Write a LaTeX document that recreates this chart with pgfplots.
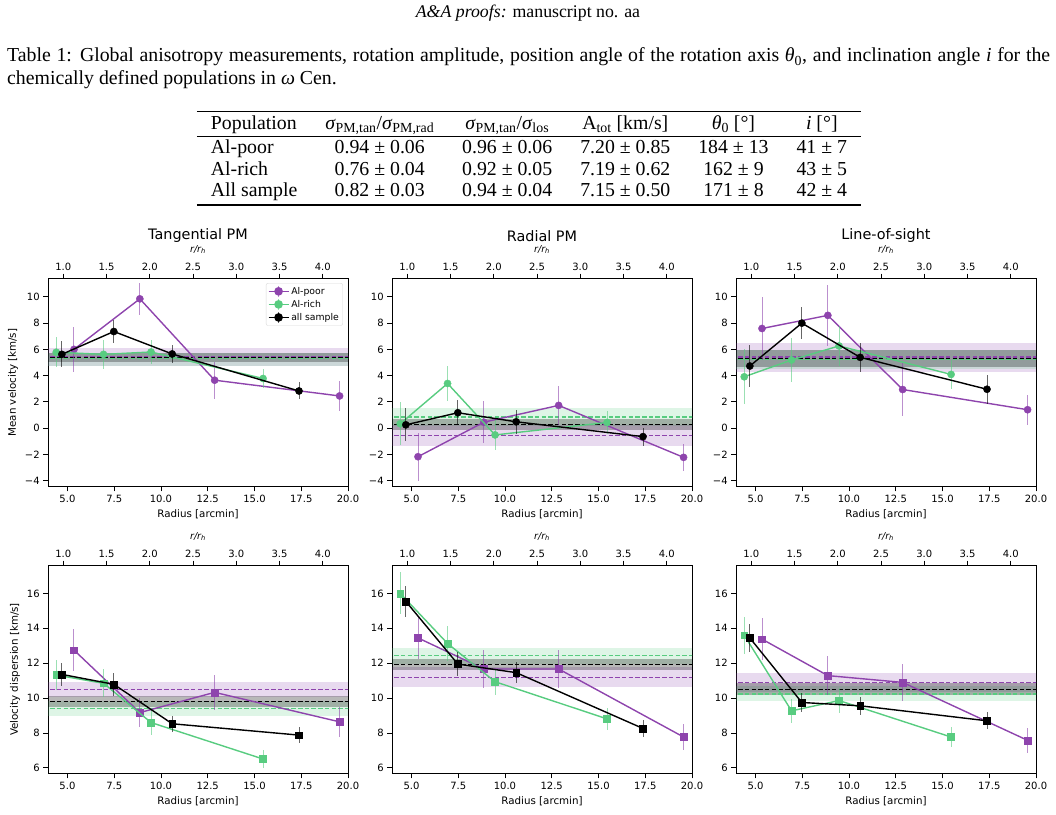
\documentclass[border=0pt]{standalone}
\usepackage{fontspec}
\setmainfont{Liberation Serif}
\newfontfamily\dv{DejaVu Sans}
\usepackage{booktabs}
\usepackage{pgfplots}
\pgfplotsset{compat=1.18}

\definecolor{cpur}{RGB}{142,68,173}
\definecolor{cgrn}{RGB}{88,204,128}

\pgfplotsset{
 panel/.style={
  scale only axis, width=300bp, height=208bp,
  xmin=3.96, xmax=20,
  xtick={5,7.5,10,12.5,15,17.5,20},
  xticklabels={5.0,7.5,10.0,12.5,15.0,17.5,20.0},
  xtick pos=bottom, ytick pos=left, tick align=outside,
  major tick length=4.8bp,
  every tick/.style={black, line width=0.9bp},
  axis line style={line width=0.9bp},
  tick label style={font=\dv\fontsize{10bp}{12bp}\selectfont},
  label style={font=\dv\fontsize{10.3bp}{12bp}\selectfont},
  xlabel={Radius [arcmin]},
  clip mode=individual,
 },
 toprow/.style={ymin=-4.45, ymax=11.4, ytick={-4,-2,0,2,4,6,8,10}, yticklabels={−4,−2,0,2,4,6,8,10}},
 botrow/.style={ymin=5.68, ymax=17.6, ytick={6,8,10,12,14,16}, yticklabels={6,8,10,12,14,16}},
 topaxis/.style={
  scale only axis, width=300bp, height=208bp,
  axis x line*=top, axis y line=none,
  xmin=0.824, xmax=4.292, ymin=0, ymax=1,
  xtick={1,1.5,2,2.5,3,3.5,4},
  xticklabels={1.0,1.5,2.0,2.5,3.0,3.5,4.0},
  tick align=outside, major tick length=4.8bp,
  every tick/.style={black, line width=0.9bp},
  axis line style={line width=0.9bp},
  tick label style={font=\dv\fontsize{10bp}{12bp}\selectfont},
  xlabel={{\itshape r/r}\textsubscript{\itshape h}},
  label style={font=\dv\fontsize{9.5bp}{11bp}\selectfont},
  xlabel style={yshift=2bp},
 },
 ebars/.style={error bars/y dir=both, error bars/y explicit, error bars/error mark=none, error bars/error bar style={line width=1bp, opacity=0.6}},
 sP/.style={cpur, line width=1.4bp, mark=*, mark size=3.6bp, mark options={solid,fill=cpur,line width=0.4bp}, ebars},
 sG/.style={cgrn, line width=1.4bp, mark=*, mark size=3.6bp, mark options={solid,fill=cgrn,line width=0.4bp}, ebars},
 sK/.style={black, line width=1.4bp, mark=*, mark size=3.6bp, mark options={solid,fill=black,line width=0.4bp}, ebars},
 qP/.style={sP, mark=square*, mark size=3.4bp},
 qG/.style={sG, mark=square*, mark size=3.4bp},
 qK/.style={sK, mark=square*, mark size=3.4bp},
 bP/.style={draw=none, fill=cpur, fill opacity=0.2, forget plot},
 bG/.style={draw=none, fill=cgrn, fill opacity=0.2, forget plot},
 bK/.style={draw=none, fill=black, fill opacity=0.28, forget plot},
 dP/.style={cpur, dash pattern=on 4.5bp off 2.2bp, line width=1.2bp, forget plot},
 dG/.style={cgrn, dash pattern=on 4.5bp off 2.2bp, line width=1.2bp, forget plot},
 dK/.style={black, dash pattern=on 4.5bp off 2.2bp, line width=1.2bp, forget plot},
 myleg/.style={legend image code/.code={
   \draw[##1, mark=none, line width=1bp, opacity=0.6] (10bp,-5.5bp) -- (10bp,5.5bp);
   \draw[mark repeat=2, mark phase=2, ##1] plot coordinates {(0bp,0bp) (10bp,0bp) (20bp,0bp)};
 }},
}

\begin{document}
\begin{tikzpicture}
\useasboundingbox (0bp,0bp) rectangle (1056bp,815bp);

% page text
\node[anchor=base, inner sep=0] at (528bp,797bp) {\fontsize{17.8bp}{20bp}\selectfont\textit{A\&A proofs:} manuscript no. aa};
\node[anchor=base west, inner sep=0] at (7bp,753bp) {\parbox[t]{1043bp}{\fontsize{19.8bp}{23bp}\selectfont Table 1: Global anisotropy measurements, rotation amplitude, position angle of the rotation axis \textit{θ}\textsubscript{0}, and inclination angle \textit{i} for the\linebreak chemically defined populations in \textit{ω} Cen.}};
\node[anchor=north, inner sep=0] at (529bp,704bp) {\fontsize{19.8bp}{21.5bp}\selectfont
\setlength{\tabcolsep}{14bp}\setlength{\aboverulesep}{1bp}\setlength{\belowrulesep}{1.5bp}\setlength{\heavyrulewidth}{1.3bp}\setlength{\lightrulewidth}{0.9bp}%
\begin{tabular}{lccccc}
\toprule
Population & \textit{σ}\textsubscript{PM,tan}/\textit{σ}\textsubscript{PM,rad} & \textit{σ}\textsubscript{PM,tan}/\textit{σ}\textsubscript{los} & A\textsubscript{tot} [km/s] & \textit{θ}\textsubscript{0} [°] & \textit{i} [°]\\
\midrule
Al-poor & 0.94 ± 0.06 & 0.96 ± 0.06 & 7.20 ± 0.85 & 184 ± 13 & 41 ± 7\\
Al-rich & 0.76 ± 0.04 & 0.92 ± 0.05 & 7.19 ± 0.62 & 162 ± 9 & 43 ± 5\\
All sample & 0.82 ± 0.03 & 0.94 ± 0.04 & 7.15 ± 0.50 & 171 ± 8 & 42 ± 4\\
\bottomrule
\end{tabular}};

% titles
\node[font=\dv\fontsize{14.4bp}{17bp}\selectfont] at (198bp,579bp) {Tangential PM};
\node[font=\dv\fontsize{14.4bp}{17bp}\selectfont] at (542bp,579bp) {Radial PM};
\node[font=\dv\fontsize{14.4bp}{17bp}\selectfont] at (886bp,579bp) {Line-of-sight};

%================ Panel 1: Tangential PM mean
\begin{axis}[panel, toprow, at={(48bp,328.5bp)}, anchor=south west, ylabel={Mean velocity [km/s]},
  legend style={at={(0.983,0.978)}, anchor=north east, draw=black!15, rounded corners=2bp, font=\dv\fontsize{9.3bp}{11bp}\selectfont, cells={anchor=west}, inner sep=1.8bp, row sep=0.5bp}]
\addplot[bP] coordinates {(3,4.76) (21,4.76) (21,6.13) (3,6.13)} -- cycle;
\addplot[bG] coordinates {(3,4.75) (21,4.75) (21,5.75) (3,5.75)} -- cycle;
\addplot[bK] coordinates {(3,5.03) (21,5.03) (21,5.73) (3,5.73)} -- cycle;
\addplot[dG] coordinates {(3,5.30) (21,5.30)};
\addplot[dP] coordinates {(3,5.44) (21,5.44)};
\addplot[dK] coordinates {(3,5.40) (21,5.40)};
\addplot[sP, forget plot] coordinates {(5.35,6.0) +- (0,1.7) (8.87,9.85) +- (0,1.2) (12.87,3.65) +- (0,1.4) (19.55,2.45) +- (0,1.15)};
\addplot[sG, forget plot] coordinates {(4.4,5.78) +- (0,1.15) (6.93,5.62) +- (0,1.1) (9.47,5.8) +- (0,0.9) (15.46,3.78) +- (0,0.7)};
\addplot[sK, forget plot] coordinates {(4.7,5.62) +- (0,1.0) (7.48,7.36) +- (0,0.9) (10.6,5.65) +- (0,0.7) (17.38,2.83) +- (0,0.65)};
\addlegendimage{myleg, cpur, line width=1.4bp, mark=*, mark size=3.6bp, mark options={solid,fill=cpur}}
\addlegendentry{Al-poor}
\addlegendimage{myleg, cgrn, line width=1.4bp, mark=*, mark size=3.6bp, mark options={solid,fill=cgrn}}
\addlegendentry{Al-rich}
\addlegendimage{myleg, black, line width=1.4bp, mark=*, mark size=3.6bp, mark options={solid,fill=black}}
\addlegendentry{all sample}
\end{axis}
\begin{axis}[topaxis, at={(48bp,328.5bp)}, anchor=south west]
\addplot[draw=none] coordinates {(1,0.5)};
\end{axis}

%================ Panel 2: Radial PM mean
\begin{axis}[panel, toprow, at={(392bp,328.5bp)}, anchor=south west]
\addplot[bG] coordinates {(3,0.14) (21,0.14) (21,1.54) (3,1.54)} -- cycle;
\addplot[bP] coordinates {(3,-1.34) (21,-1.34) (21,0.2) (3,0.2)} -- cycle;
\addplot[bK] coordinates {(3,-0.14) (21,-0.14) (21,0.66) (3,0.66)} -- cycle;
\addplot[dG] coordinates {(3,0.84) (21,0.84)};
\addplot[dP] coordinates {(3,-0.57) (21,-0.57)};
\addplot[dK] coordinates {(3,0.3) (21,0.3)};
\addplot[sP] coordinates {(5.35,-2.18) +- (0,1.83) (8.87,0.45) +- (0,1.6) (12.87,1.73) +- (0,1.5) (19.55,-2.23) +- (0,1.05)};
\addplot[sG] coordinates {(4.4,0.33) +- (0,1.65) (6.93,3.4) +- (0,1.3) (9.47,-0.52) +- (0,1.15) (15.46,0.43) +- (0,0.9)};
\addplot[sK] coordinates {(4.7,0.25) +- (0,1.25) (7.48,1.17) +- (0,0.95) (10.6,0.48) +- (0,0.9) (17.38,-0.65) +- (0,0.68)};
\end{axis}
\begin{axis}[topaxis, at={(392bp,328.5bp)}, anchor=south west]
\addplot[draw=none] coordinates {(1,0.5)};
\end{axis}

%================ Panel 3: LOS mean
\begin{axis}[panel, toprow, at={(736bp,328.5bp)}, anchor=south west]
\addplot[bP] coordinates {(3,4.3) (21,4.3) (21,6.5) (3,6.5)} -- cycle;
\addplot[bG] coordinates {(3,4.52) (21,4.52) (21,5.92) (3,5.92)} -- cycle;
\addplot[bK] coordinates {(3,4.68) (21,4.68) (21,5.94) (3,5.94)} -- cycle;
\addplot[dG] coordinates {(3,5.2) (21,5.2)};
\addplot[dP] coordinates {(3,5.42) (21,5.42)};
\addplot[dK] coordinates {(3,5.3) (21,5.3)};
\addplot[sP] coordinates {(5.35,7.59) +- (0,2.4) (8.87,8.59) +- (0,2.3) (12.87,2.94) +- (0,2.0) (19.55,1.4) +- (0,1.15)};
\addplot[sG] coordinates {(4.4,3.91) +- (0,2.1) (6.93,5.19) +- (0,1.65) (9.47,6.26) +- (0,1.5) (15.46,4.09) +- (0,1.1)};
\addplot[sK] coordinates {(4.7,4.73) +- (0,1.6) (7.48,8.0) +- (0,1.22) (10.6,5.39) +- (0,1.1) (17.38,2.96) +- (0,1.1)};
\end{axis}
\begin{axis}[topaxis, at={(736bp,328.5bp)}, anchor=south west]
\addplot[draw=none] coordinates {(1,0.5)};
\end{axis}

%================ Panel 4: Tangential dispersion
\begin{axis}[panel, botrow, at={(48bp,41.5bp)}, anchor=south west, ylabel={Velocity dispersion [km/s]}]
\addplot[bP] coordinates {(3,10.05) (21,10.05) (21,10.95) (3,10.95)} -- cycle;
\addplot[bG] coordinates {(3,9.0) (21,9.0) (21,9.84) (3,9.84)} -- cycle;
\addplot[bK] coordinates {(3,9.47) (21,9.47) (21,10.13) (3,10.13)} -- cycle;
\addplot[dP] coordinates {(3,10.5) (21,10.5)};
\addplot[dG] coordinates {(3,9.42) (21,9.42)};
\addplot[dK] coordinates {(3,9.8) (21,9.8)};
\addplot[qP] coordinates {(5.35,12.75) +- (0,1.2) (8.87,9.17) +- (0,0.85) (12.87,10.33) +- (0,1.0) (19.55,8.64) +- (0,0.85)};
\addplot[qG] coordinates {(4.4,11.32) +- (0,0.85) (6.93,10.85) +- (0,0.8) (9.47,8.6) +- (0,0.7) (15.46,6.51) +- (0,0.5)};
\addplot[qK] coordinates {(4.7,11.36) +- (0,0.65) (7.48,10.79) +- (0,0.65) (10.6,8.53) +- (0,0.45) (17.38,7.88) +- (0,0.45)};
\end{axis}
\begin{axis}[topaxis, at={(48bp,41.5bp)}, anchor=south west]
\addplot[draw=none] coordinates {(1,0.5)};
\end{axis}

%================ Panel 5: Radial dispersion
\begin{axis}[panel, botrow, at={(392bp,41.5bp)}, anchor=south west]
\addplot[bG] coordinates {(3,11.98) (21,11.98) (21,12.9) (3,12.9)} -- cycle;
\addplot[bP] coordinates {(3,10.62) (21,10.62) (21,11.76) (3,11.76)} -- cycle;
\addplot[bK] coordinates {(3,11.6) (21,11.6) (21,12.27) (3,12.27)} -- cycle;
\addplot[dG] coordinates {(3,12.44) (21,12.44)};
\addplot[dP] coordinates {(3,11.19) (21,11.19)};
\addplot[dK] coordinates {(3,11.93) (21,11.93)};
\addplot[qP] coordinates {(5.35,13.45) +- (0,1.2) (8.87,11.67) +- (0,1.1) (12.87,11.67) +- (0,1.1) (19.55,7.77) +- (0,0.75)};
\addplot[qG] coordinates {(4.4,16.0) +- (0,1.2) (6.93,13.13) +- (0,1.0) (9.47,10.94) +- (0,0.75) (15.46,8.81) +- (0,0.63)};
\addplot[qK] coordinates {(4.7,15.54) +- (0,0.9) (7.48,11.95) +- (0,0.67) (10.6,11.46) +- (0,0.62) (17.38,8.26) +- (0,0.48)};
\end{axis}
\begin{axis}[topaxis, at={(392bp,41.5bp)}, anchor=south west]
\addplot[draw=none] coordinates {(1,0.5)};
\end{axis}

%================ Panel 6: LOS dispersion
\begin{axis}[panel, botrow, at={(736bp,41.5bp)}, anchor=south west]
\addplot[bP] coordinates {(3,10.35) (21,10.35) (21,11.45) (3,11.45)} -- cycle;
\addplot[bG] coordinates {(3,9.81) (21,9.81) (21,10.67) (3,10.67)} -- cycle;
\addplot[bK] coordinates {(3,10.18) (21,10.18) (21,10.84) (3,10.84)} -- cycle;
\addplot[dP] coordinates {(3,10.9) (21,10.9)};
\addplot[dG] coordinates {(3,10.24) (21,10.24)};
\addplot[dK] coordinates {(3,10.51) (21,10.51)};
\addplot[qP] coordinates {(5.35,13.38) +- (0,1.2) (8.87,11.29) +- (0,1.1) (12.87,10.9) +- (0,1.05) (19.55,7.58) +- (0,0.7)};
\addplot[qG] coordinates {(4.4,13.6) +- (0,1.05) (6.93,9.27) +- (0,0.67) (9.47,9.86) +- (0,0.7) (15.46,7.77) +- (0,0.55)};
\addplot[qK] coordinates {(4.7,13.45) +- (0,0.8) (7.48,9.75) +- (0,0.55) (10.6,9.56) +- (0,0.52) (17.38,8.7) +- (0,0.48)};
\end{axis}
\begin{axis}[topaxis, at={(736bp,41.5bp)}, anchor=south west]
\addplot[draw=none] coordinates {(1,0.5)};
\end{axis}
\end{tikzpicture}
\end{document}
